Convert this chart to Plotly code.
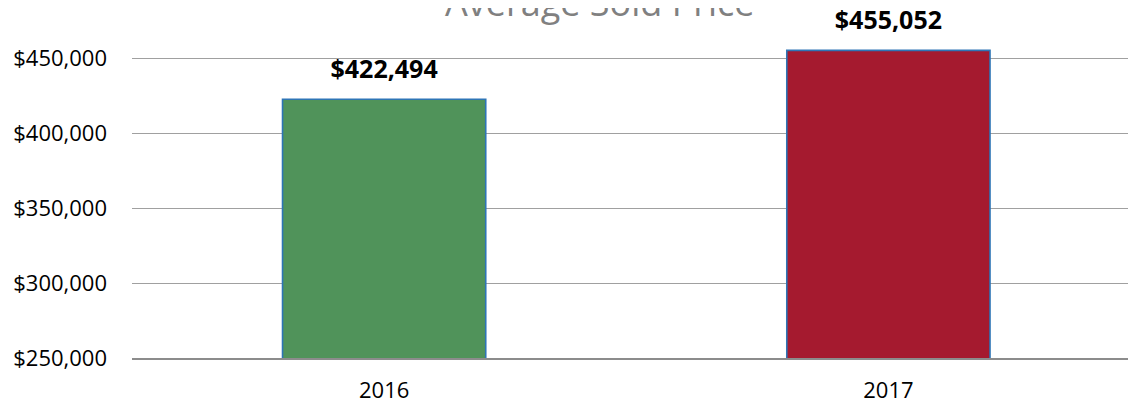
import plotly.graph_objects as go

categories = ["2016", "2017"]
avg_price = [422494, 455052]
bar_colors = ["#50935A", "#A51A2F"]
y_ticks = [250000, 300000, 350000, 400000, 450000]
y_tick_labels = ["$250,000", "$300,000", "$350,000", "$400,000", "$450,000"]
title_text = "Average Sold Price"

fig = go.Figure()
fig.add_trace(go.Bar(
    x=categories,
    y=avg_price,
    width=0.403,
    marker=dict(color=bar_colors, line=dict(color="#2E75B6", width=1.6)),
    hoverinfo="x+y",
))

# value labels as a text trace placed above each bar
fig.add_trace(go.Scatter(
    x=categories,
    y=avg_price,
    mode="markers+text",
    text=[f"<b>${v:,}</b>" for v in avg_price],
    textposition="top center",
    marker=dict(size=22, opacity=0),
    textfont=dict(family="Open Sans", size=25, color="#000000"),
    cliponaxis=False,
    hoverinfo="skip",
))

fig.add_annotation(
    x=0.466, y=1.119, xref="paper", yref="paper",
    text=title_text, showarrow=False, xanchor="center", yanchor="middle",
    font=dict(family="Open Sans", size=36, color="#808080"),
)

fig.update_layout(
    width=1128, height=396,
    margin=dict(l=124, r=0, t=32, b=46, autoexpand=False),
    paper_bgcolor="white", plot_bgcolor="white",
    showlegend=False,
    font=dict(family="Open Sans", color="#000000"),
    xaxis=dict(
        type="category", range=[-0.5, 1.491],
        showgrid=False, zeroline=False,
        showline=True, linecolor="#8C8C8C", linewidth=2,
        ticks="", ticklabelstandoff=12,
        tickfont=dict(family="Open Sans", size=22, color="#000000"),
    ),
    yaxis=dict(
        range=[250000, 462000],
        tickvals=y_ticks, ticktext=y_tick_labels,
        showgrid=True, gridcolor="#A0A0A0", gridwidth=1,
        zeroline=False, showline=False,
        ticks="", ticklabelstandoff=24,
        tickfont=dict(family="Open Sans", size=22, color="#000000"),
    ),
)

fig.write_html("out.html")
